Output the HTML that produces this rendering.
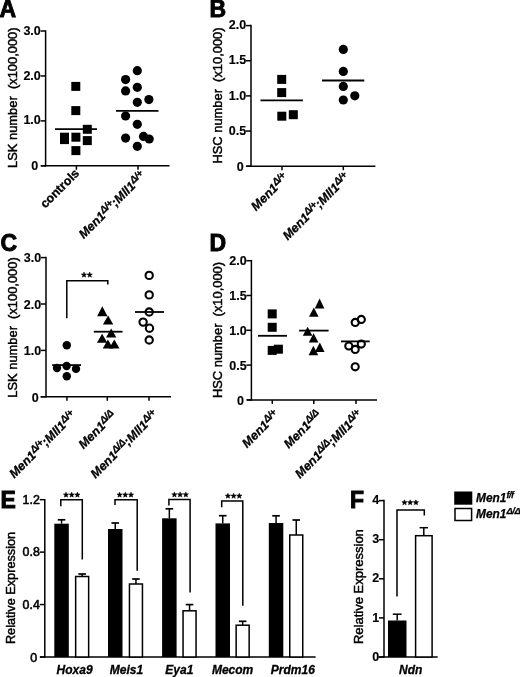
<!DOCTYPE html>
<html><head><meta charset="utf-8"><style>
html,body{margin:0;padding:0;background:#fff;}
body{width:520px;height:677px;overflow:hidden;}
svg{display:block;font-family:"Liberation Sans",sans-serif;filter:grayscale(1);}
</style></head><body>
<svg width="520" height="677" viewBox="0 0 520 677">
<rect width="520" height="677" fill="#fff"/>
<text x="-0.5" y="17" font-size="23" font-weight="bold" font-style="normal" text-anchor="start" stroke="#000" stroke-width="0.9" >A</text>
<line x1="45.6" y1="30.26" x2="45.6" y2="166.55" stroke="#000" stroke-width="1.5"/>
<line x1="40.6" y1="31.01" x2="45.6" y2="31.01" stroke="#000" stroke-width="1.5"/>
<text x="40.8" y="34.61" font-size="12.5" font-weight="bold" font-style="normal" text-anchor="end" stroke="#000" stroke-width="0.15" >3.0</text>
<line x1="40.6" y1="75.94" x2="45.6" y2="75.94" stroke="#000" stroke-width="1.5"/>
<text x="40.8" y="79.54" font-size="12.5" font-weight="bold" font-style="normal" text-anchor="end" stroke="#000" stroke-width="0.15" >2.0</text>
<line x1="40.6" y1="120.87" x2="45.6" y2="120.87" stroke="#000" stroke-width="1.5"/>
<text x="40.8" y="124.47" font-size="12.5" font-weight="bold" font-style="normal" text-anchor="end" stroke="#000" stroke-width="0.15" >1.0</text>
<line x1="40.6" y1="165.8" x2="45.6" y2="165.8" stroke="#000" stroke-width="1.5"/>
<text x="38.2" y="170.2" font-size="12.5" font-weight="bold" font-style="normal" text-anchor="end" stroke="#000" stroke-width="0.15" >0</text>
<line x1="41" y1="165.8" x2="169.5" y2="165.8" stroke="#000" stroke-width="1.5"/>
<line x1="76.4" y1="165.8" x2="76.4" y2="169.8" stroke="#000" stroke-width="1.5"/>
<line x1="138" y1="165.8" x2="138" y2="169.8" stroke="#000" stroke-width="1.5"/>
<text transform="translate(16.8,97.7) rotate(-90)" font-size="12.9" text-anchor="middle" stroke="#000" stroke-width="0.45">LSK number&#160;&#160;(x100,000)</text>
<rect x="71.30" y="81.90" width="9" height="9" fill="#000"/>
<rect x="71.30" y="106.10" width="9" height="9" fill="#000"/>
<rect x="82.80" y="124.80" width="9" height="9" fill="#000"/>
<rect x="60.00" y="132.70" width="9" height="9" fill="#000"/>
<rect x="60.00" y="135.10" width="9" height="9" fill="#000"/>
<rect x="71.40" y="132.70" width="9" height="9" fill="#000"/>
<rect x="82.80" y="136.10" width="9" height="9" fill="#000"/>
<rect x="71.40" y="146.10" width="9" height="9" fill="#000"/>
<line x1="55" y1="129.1" x2="97" y2="129.1" stroke="#000" stroke-width="1.8"/>
<circle cx="137.3" cy="70.7" r="4.6" fill="#000"/>
<circle cx="125.6" cy="79.6" r="4.6" fill="#000"/>
<circle cx="137.3" cy="87.3" r="4.6" fill="#000"/>
<circle cx="125.6" cy="90.9" r="4.6" fill="#000"/>
<circle cx="148.9" cy="99.6" r="4.6" fill="#000"/>
<circle cx="137.3" cy="102.3" r="4.6" fill="#000"/>
<circle cx="125.6" cy="116" r="4.6" fill="#000"/>
<circle cx="137.3" cy="124.3" r="4.6" fill="#000"/>
<circle cx="125.6" cy="138.1" r="4.6" fill="#000"/>
<circle cx="143.5" cy="136.4" r="4.6" fill="#000"/>
<circle cx="149.2" cy="139" r="4.6" fill="#000"/>
<circle cx="137.3" cy="146.3" r="4.6" fill="#000"/>
<line x1="116" y1="110.8" x2="158.5" y2="110.8" stroke="#000" stroke-width="1.8"/>
<text transform="translate(80,174) rotate(-45)" font-size="12.5" font-weight="bold" font-style="normal" text-anchor="end" stroke="#000" stroke-width="0.3">controls</text>
<text transform="translate(146,177) rotate(-45)" font-size="12.5" font-weight="bold" font-style="italic" text-anchor="end" stroke="#000" stroke-width="0.3"><tspan>Men1</tspan><tspan dy="-3.8" font-size="10" letter-spacing="-0.5">Δ/+</tspan><tspan dy="3.8">;Mll1</tspan><tspan dy="-3.8" font-size="10" letter-spacing="-0.5">Δ/+</tspan></text>
<text x="209.5" y="17" font-size="23" font-weight="bold" font-style="normal" text-anchor="start" stroke="#000" stroke-width="0.9" >B</text>
<line x1="251" y1="24.85" x2="251" y2="166.95" stroke="#000" stroke-width="1.5"/>
<line x1="246" y1="25.6" x2="251" y2="25.6" stroke="#000" stroke-width="1.5"/>
<text x="246.2" y="29.2" font-size="12.5" font-weight="bold" font-style="normal" text-anchor="end" stroke="#000" stroke-width="0.15" >2.0</text>
<line x1="246" y1="60.75" x2="251" y2="60.75" stroke="#000" stroke-width="1.5"/>
<text x="246.2" y="64.35" font-size="12.5" font-weight="bold" font-style="normal" text-anchor="end" stroke="#000" stroke-width="0.15" >1.5</text>
<line x1="246" y1="95.9" x2="251" y2="95.9" stroke="#000" stroke-width="1.5"/>
<text x="246.2" y="99.5" font-size="12.5" font-weight="bold" font-style="normal" text-anchor="end" stroke="#000" stroke-width="0.15" >1.0</text>
<line x1="246" y1="131.05" x2="251" y2="131.05" stroke="#000" stroke-width="1.5"/>
<text x="246.2" y="134.65" font-size="12.5" font-weight="bold" font-style="normal" text-anchor="end" stroke="#000" stroke-width="0.15" >0.5</text>
<line x1="246" y1="166.2" x2="251" y2="166.2" stroke="#000" stroke-width="1.5"/>
<text x="243.6" y="170.6" font-size="12.5" font-weight="bold" font-style="normal" text-anchor="end" stroke="#000" stroke-width="0.15" >0</text>
<line x1="246.5" y1="166.2" x2="375.4" y2="166.2" stroke="#000" stroke-width="1.5"/>
<line x1="282" y1="166.2" x2="282" y2="170.2" stroke="#000" stroke-width="1.5"/>
<line x1="343.3" y1="166.2" x2="343.3" y2="170.2" stroke="#000" stroke-width="1.5"/>
<text transform="translate(221.8,95.5) rotate(-90)" font-size="12.9" text-anchor="middle" stroke="#000" stroke-width="0.45">HSC number&#160;&#160;(x10,000)</text>
<rect x="277.20" y="74.90" width="9" height="9" fill="#000"/>
<rect x="277.20" y="88.10" width="9" height="9" fill="#000"/>
<rect x="277.30" y="111.70" width="9" height="9" fill="#000"/>
<rect x="288.80" y="110.20" width="9" height="9" fill="#000"/>
<line x1="260.5" y1="100.4" x2="302.9" y2="100.4" stroke="#000" stroke-width="1.8"/>
<circle cx="343.3" cy="49.4" r="4.6" fill="#000"/>
<circle cx="343.3" cy="71.4" r="4.6" fill="#000"/>
<circle cx="343.3" cy="86.4" r="4.6" fill="#000"/>
<circle cx="354.8" cy="95.8" r="4.6" fill="#000"/>
<circle cx="343.3" cy="100" r="4.6" fill="#000"/>
<line x1="322" y1="80.5" x2="364.3" y2="80.5" stroke="#000" stroke-width="1.8"/>
<text transform="translate(288.5,179) rotate(-45)" font-size="12.5" font-weight="bold" font-style="italic" text-anchor="end" stroke="#000" stroke-width="0.3"><tspan>Men1</tspan><tspan dy="-3.8" font-size="10" letter-spacing="-0.5">Δ/+</tspan></text>
<text transform="translate(350,178.5) rotate(-45)" font-size="12.5" font-weight="bold" font-style="italic" text-anchor="end" stroke="#000" stroke-width="0.3"><tspan>Men1</tspan><tspan dy="-3.8" font-size="10" letter-spacing="-0.5">Δ/+</tspan><tspan dy="3.8">;Mll1</tspan><tspan dy="-3.8" font-size="10" letter-spacing="-0.5">Δ/+</tspan></text>
<text x="0.5" y="251" font-size="23" font-weight="bold" font-style="normal" text-anchor="start" stroke="#000" stroke-width="0.9" >C</text>
<line x1="46" y1="256.85" x2="46" y2="397.55" stroke="#000" stroke-width="1.5"/>
<line x1="41" y1="257.6" x2="46" y2="257.6" stroke="#000" stroke-width="1.5"/>
<text x="41.2" y="262.1" font-size="12.5" font-weight="bold" font-style="normal" text-anchor="end" stroke="#000" stroke-width="0.15" >3.0</text>
<line x1="41" y1="304" x2="46" y2="304" stroke="#000" stroke-width="1.5"/>
<text x="41.2" y="308.5" font-size="12.5" font-weight="bold" font-style="normal" text-anchor="end" stroke="#000" stroke-width="0.15" >2.0</text>
<line x1="41" y1="350.4" x2="46" y2="350.4" stroke="#000" stroke-width="1.5"/>
<text x="41.2" y="354.9" font-size="12.5" font-weight="bold" font-style="normal" text-anchor="end" stroke="#000" stroke-width="0.15" >1.0</text>
<line x1="41" y1="396.8" x2="46" y2="396.8" stroke="#000" stroke-width="1.5"/>
<text x="38.6" y="402.1" font-size="12.5" font-weight="bold" font-style="normal" text-anchor="end" stroke="#000" stroke-width="0.15" >0</text>
<line x1="40.5" y1="396.8" x2="171" y2="396.8" stroke="#000" stroke-width="1.5"/>
<line x1="66.9" y1="396.8" x2="66.9" y2="400.8" stroke="#000" stroke-width="1.5"/>
<line x1="107.3" y1="396.8" x2="107.3" y2="400.8" stroke="#000" stroke-width="1.5"/>
<line x1="149" y1="396.8" x2="149" y2="400.8" stroke="#000" stroke-width="1.5"/>
<text transform="translate(17.3,327.5) rotate(-90)" font-size="12.9" text-anchor="middle" stroke="#000" stroke-width="0.45">LSK number&#160;&#160;(x100,000)</text>
<polyline points="66.8,318.2 66.8,280.8 107.8,280.8 107.8,284.6" fill="none" stroke="#000" stroke-width="1.5"/>
<polygon points="84.00,272.10 84.73,273.89 86.66,274.03 85.19,275.29 85.65,277.17 84.00,276.15 82.35,277.17 82.81,275.29 81.34,274.03 83.27,273.89" fill="#000" stroke="#000" stroke-width="0.5" stroke-linejoin="round"/>
<polygon points="89.70,272.10 90.43,273.89 92.36,274.03 90.89,275.29 91.35,277.17 89.70,276.15 88.05,277.17 88.51,275.29 87.04,274.03 88.97,273.89" fill="#000" stroke="#000" stroke-width="0.5" stroke-linejoin="round"/>
<circle cx="66.8" cy="345.2" r="4.2" fill="#000"/>
<circle cx="57" cy="368" r="4.2" fill="#000"/>
<circle cx="66.6" cy="366" r="4.2" fill="#000"/>
<circle cx="76" cy="368.9" r="4.2" fill="#000"/>
<circle cx="66.8" cy="376.2" r="4.2" fill="#000"/>
<line x1="52.2" y1="365.1" x2="81" y2="365.1" stroke="#000" stroke-width="1.8"/>
<polygon points="102.3,306.25 107.5,316.3 97.1,316.3" fill="#000"/>
<polygon points="108.1,315.4 113.3,324.5 102.89999999999999,324.5" fill="#000"/>
<polygon points="111.2,328.4 116.4,337.5 106.0,337.5" fill="#000"/>
<polygon points="102.1,333.7 107.3,342.8 96.89999999999999,342.8" fill="#000"/>
<polygon points="107.9,339.4 113.10000000000001,348.6 102.7,348.6" fill="#000"/>
<polygon points="114.3,339.4 119.5,348.6 109.1,348.6" fill="#000"/>
<line x1="93.8" y1="331.7" x2="122.5" y2="331.7" stroke="#000" stroke-width="1.8"/>
<circle cx="149.2" cy="275.4" r="3.65" fill="none" stroke="#000" stroke-width="2.1"/>
<circle cx="149.2" cy="294.9" r="3.65" fill="none" stroke="#000" stroke-width="2.1"/>
<circle cx="149.2" cy="312" r="3.65" fill="none" stroke="#000" stroke-width="2.1"/>
<circle cx="143.1" cy="322.1" r="3.65" fill="none" stroke="#000" stroke-width="2.1"/>
<circle cx="149.5" cy="328.2" r="3.65" fill="none" stroke="#000" stroke-width="2.1"/>
<circle cx="149.2" cy="340" r="3.65" fill="none" stroke="#000" stroke-width="2.1"/>
<line x1="135" y1="312" x2="164" y2="312" stroke="#000" stroke-width="1.8"/>
<text transform="translate(76.5,416.5) rotate(-45)" font-size="12.5" font-weight="bold" font-style="italic" text-anchor="end" stroke="#000" stroke-width="0.3"><tspan>Men1</tspan><tspan dy="-3.8" font-size="10" letter-spacing="-0.5">Δ/+</tspan><tspan dy="3.8">;Mll1</tspan><tspan dy="-3.8" font-size="10" letter-spacing="-0.5">Δ/+</tspan></text>
<text transform="translate(116.5,416.5) rotate(-45)" font-size="12.5" font-weight="bold" font-style="italic" text-anchor="end" stroke="#000" stroke-width="0.3"><tspan>Men1</tspan><tspan dy="-3.8" font-size="10" letter-spacing="-0.5">Δ/Δ</tspan></text>
<text transform="translate(158.5,416) rotate(-45)" font-size="12.5" font-weight="bold" font-style="italic" text-anchor="end" stroke="#000" stroke-width="0.3"><tspan>Men1</tspan><tspan dy="-3.8" font-size="10" letter-spacing="-0.5">Δ/Δ</tspan><tspan dy="3.8">;Mll1</tspan><tspan dy="-3.8" font-size="10" letter-spacing="-0.5">Δ/+</tspan></text>
<text x="209.5" y="251.3" font-size="23" font-weight="bold" font-style="normal" text-anchor="start" stroke="#000" stroke-width="0.9" >D</text>
<line x1="251.4" y1="259.95" x2="251.4" y2="400.65" stroke="#000" stroke-width="1.5"/>
<line x1="246.4" y1="260.7" x2="251.4" y2="260.7" stroke="#000" stroke-width="1.5"/>
<text x="246.6" y="265.4" font-size="12.5" font-weight="bold" font-style="normal" text-anchor="end" stroke="#000" stroke-width="0.15" >2.0</text>
<line x1="246.4" y1="295.5" x2="251.4" y2="295.5" stroke="#000" stroke-width="1.5"/>
<text x="246.6" y="300.2" font-size="12.5" font-weight="bold" font-style="normal" text-anchor="end" stroke="#000" stroke-width="0.15" >1.5</text>
<line x1="246.4" y1="330.3" x2="251.4" y2="330.3" stroke="#000" stroke-width="1.5"/>
<text x="246.6" y="335" font-size="12.5" font-weight="bold" font-style="normal" text-anchor="end" stroke="#000" stroke-width="0.15" >1.0</text>
<line x1="246.4" y1="365.1" x2="251.4" y2="365.1" stroke="#000" stroke-width="1.5"/>
<text x="246.6" y="369.8" font-size="12.5" font-weight="bold" font-style="normal" text-anchor="end" stroke="#000" stroke-width="0.15" >0.5</text>
<line x1="246.4" y1="399.9" x2="251.4" y2="399.9" stroke="#000" stroke-width="1.5"/>
<text x="244" y="405.4" font-size="12.5" font-weight="bold" font-style="normal" text-anchor="end" stroke="#000" stroke-width="0.15" >0</text>
<line x1="247" y1="399.9" x2="377" y2="399.9" stroke="#000" stroke-width="1.5"/>
<line x1="272.3" y1="399.9" x2="272.3" y2="403.9" stroke="#000" stroke-width="1.5"/>
<line x1="313.8" y1="399.9" x2="313.8" y2="403.9" stroke="#000" stroke-width="1.5"/>
<line x1="356" y1="399.9" x2="356" y2="403.9" stroke="#000" stroke-width="1.5"/>
<text transform="translate(221.8,330) rotate(-90)" font-size="12.9" text-anchor="middle" stroke="#000" stroke-width="0.45">HSC number&#160;&#160;(x10,000)</text>
<rect x="267.70" y="309.40" width="9" height="9" fill="#000"/>
<rect x="267.70" y="322.80" width="9" height="9" fill="#000"/>
<rect x="267.70" y="345.90" width="9" height="9" fill="#000"/>
<rect x="273.90" y="344.70" width="9" height="9" fill="#000"/>
<line x1="258" y1="335.8" x2="287" y2="335.8" stroke="#000" stroke-width="1.8"/>
<polygon points="319.6,298.5 324.40000000000003,308.6 314.8,308.6" fill="#000"/>
<polygon points="313.8,307.4 318.6,316.7 309.0,316.7" fill="#000"/>
<polygon points="307.6,326.7 312.40000000000003,335.8 302.8,335.8" fill="#000"/>
<polygon points="313.6,333.2 318.40000000000003,342.5 308.8,342.5" fill="#000"/>
<polygon points="319.8,342.5 324.6,352 315.0,352" fill="#000"/>
<polygon points="313.4,345.8 318.2,355.3 308.59999999999997,355.3" fill="#000"/>
<line x1="299.1" y1="330.6" x2="328.6" y2="330.6" stroke="#000" stroke-width="1.8"/>
<circle cx="355.2" cy="322.4" r="3.55" fill="none" stroke="#000" stroke-width="2.1"/>
<circle cx="361.3" cy="319.4" r="3.55" fill="none" stroke="#000" stroke-width="2.1"/>
<circle cx="348.8" cy="346" r="3.55" fill="none" stroke="#000" stroke-width="2.1"/>
<circle cx="355.2" cy="349.4" r="3.55" fill="none" stroke="#000" stroke-width="2.1"/>
<circle cx="361.3" cy="344.1" r="3.55" fill="none" stroke="#000" stroke-width="2.1"/>
<circle cx="355.2" cy="366.8" r="3.55" fill="none" stroke="#000" stroke-width="2.1"/>
<line x1="341" y1="341.4" x2="369.7" y2="341.4" stroke="#000" stroke-width="1.8"/>
<text transform="translate(279.5,416) rotate(-45)" font-size="12.5" font-weight="bold" font-style="italic" text-anchor="end" stroke="#000" stroke-width="0.3"><tspan>Men1</tspan><tspan dy="-3.8" font-size="10" letter-spacing="-0.5">Δ/+</tspan></text>
<text transform="translate(321.8,416) rotate(-45)" font-size="12.5" font-weight="bold" font-style="italic" text-anchor="end" stroke="#000" stroke-width="0.3"><tspan>Men1</tspan><tspan dy="-3.8" font-size="10" letter-spacing="-0.5">Δ/Δ</tspan></text>
<text transform="translate(363,416) rotate(-45)" font-size="12.5" font-weight="bold" font-style="italic" text-anchor="end" stroke="#000" stroke-width="0.3"><tspan>Men1</tspan><tspan dy="-3.8" font-size="10" letter-spacing="-0.5">Δ/Δ</tspan><tspan dy="3.8">;Mll1</tspan><tspan dy="-3.8" font-size="10" letter-spacing="-0.5">Δ/+</tspan></text>
<text x="0.5" y="507.7" font-size="23" font-weight="bold" font-style="normal" text-anchor="start" stroke="#000" stroke-width="0.9" >E</text>
<line x1="44.8" y1="498.93" x2="44.8" y2="657.75" stroke="#000" stroke-width="1.5"/>
<line x1="39.8" y1="499.68" x2="44.8" y2="499.68" stroke="#000" stroke-width="1.5"/>
<text x="39.8" y="503.68" font-size="12.4" font-weight="normal" font-style="normal" text-anchor="end" stroke="#000" stroke-width="0.55" >1.2</text>
<line x1="39.8" y1="552.12" x2="44.8" y2="552.12" stroke="#000" stroke-width="1.5"/>
<text x="39.8" y="556.12" font-size="12.4" font-weight="normal" font-style="normal" text-anchor="end" stroke="#000" stroke-width="0.55" >0.8</text>
<line x1="39.8" y1="604.56" x2="44.8" y2="604.56" stroke="#000" stroke-width="1.5"/>
<text x="39.8" y="608.56" font-size="12.4" font-weight="normal" font-style="normal" text-anchor="end" stroke="#000" stroke-width="0.55" >0.4</text>
<line x1="39.8" y1="657" x2="44.8" y2="657" stroke="#000" stroke-width="1.5"/>
<text x="37.2" y="661.8" font-size="12.4" font-weight="normal" font-style="normal" text-anchor="end" stroke="#000" stroke-width="0.55" >0</text>
<line x1="40" y1="657" x2="315.6" y2="657" stroke="#000" stroke-width="1.5"/>
<text transform="translate(15,588) rotate(-90)" font-size="12.7" text-anchor="middle" stroke="#000" stroke-width="0.45">Relative Expression</text>
<rect x="54.3" y="523.7" width="14.5" height="133.29999999999995" fill="#000"/>
<line x1="61.55" y1="523.7" x2="61.55" y2="519.8" stroke="#000" stroke-width="1.5"/>
<line x1="57.75" y1="519.8" x2="65.35" y2="519.8" stroke="#000" stroke-width="1.7"/>
<rect x="75.65" y="576.5" width="13.0" height="80.5" fill="#fff" stroke="#000" stroke-width="1.5"/>
<line x1="82.15" y1="576.5" x2="82.15" y2="574" stroke="#000" stroke-width="1.5"/>
<line x1="78.35" y1="574" x2="85.95" y2="574" stroke="#000" stroke-width="1.7"/>
<rect x="108.0" y="529.0" width="14.5" height="128.0" fill="#000"/>
<line x1="115.25" y1="529" x2="115.25" y2="523" stroke="#000" stroke-width="1.5"/>
<line x1="111.45" y1="523" x2="119.05" y2="523" stroke="#000" stroke-width="1.7"/>
<rect x="129.45" y="584.0" width="13.0" height="73.0" fill="#fff" stroke="#000" stroke-width="1.5"/>
<line x1="135.95" y1="584" x2="135.95" y2="579" stroke="#000" stroke-width="1.5"/>
<line x1="132.15" y1="579" x2="139.75" y2="579" stroke="#000" stroke-width="1.7"/>
<rect x="162.1" y="518.3" width="14.5" height="138.70000000000005" fill="#000"/>
<line x1="169.35" y1="518.3" x2="169.35" y2="508.8" stroke="#000" stroke-width="1.5"/>
<line x1="165.55" y1="508.8" x2="173.15" y2="508.8" stroke="#000" stroke-width="1.7"/>
<rect x="183.05" y="610.8" width="13.0" height="46.200000000000045" fill="#fff" stroke="#000" stroke-width="1.5"/>
<line x1="189.55" y1="610.8" x2="189.55" y2="604.6" stroke="#000" stroke-width="1.5"/>
<line x1="185.75" y1="604.6" x2="193.35" y2="604.6" stroke="#000" stroke-width="1.7"/>
<rect x="215.5" y="523.4" width="14.5" height="133.60000000000002" fill="#000"/>
<line x1="222.75" y1="523.4" x2="222.75" y2="515.7" stroke="#000" stroke-width="1.5"/>
<line x1="218.95" y1="515.7" x2="226.55" y2="515.7" stroke="#000" stroke-width="1.7"/>
<rect x="236.15" y="625.2" width="13.0" height="31.799999999999955" fill="#fff" stroke="#000" stroke-width="1.5"/>
<line x1="242.65" y1="625.2" x2="242.65" y2="621.3" stroke="#000" stroke-width="1.5"/>
<line x1="238.85" y1="621.3" x2="246.45" y2="621.3" stroke="#000" stroke-width="1.7"/>
<rect x="268.8" y="523.0" width="14.5" height="134.0" fill="#000"/>
<line x1="276.05" y1="523" x2="276.05" y2="515.8" stroke="#000" stroke-width="1.5"/>
<line x1="272.25" y1="515.8" x2="279.85" y2="515.8" stroke="#000" stroke-width="1.7"/>
<rect x="289.75" y="535.0" width="13.0" height="122.0" fill="#fff" stroke="#000" stroke-width="1.5"/>
<line x1="296.25" y1="535" x2="296.25" y2="520" stroke="#000" stroke-width="1.5"/>
<line x1="292.45" y1="520" x2="300.05" y2="520" stroke="#000" stroke-width="1.7"/>
<polyline points="60.8,506.3 60.8,499.8 82.3,499.8 82.3,559.6" fill="none" stroke="#000" stroke-width="1.5"/>
<polygon points="66.00,492.10 66.73,493.89 68.66,494.03 67.19,495.29 67.65,497.17 66.00,496.15 64.35,497.17 64.81,495.29 63.34,494.03 65.27,493.89" fill="#000" stroke="#000" stroke-width="0.5" stroke-linejoin="round"/>
<polygon points="71.70,492.10 72.43,493.89 74.36,494.03 72.89,495.29 73.35,497.17 71.70,496.15 70.05,497.17 70.51,495.29 69.04,494.03 70.97,493.89" fill="#000" stroke="#000" stroke-width="0.5" stroke-linejoin="round"/>
<polygon points="77.40,492.10 78.13,493.89 80.06,494.03 78.59,495.29 79.05,497.17 77.40,496.15 75.75,497.17 76.21,495.29 74.74,494.03 76.67,493.89" fill="#000" stroke="#000" stroke-width="0.5" stroke-linejoin="round"/>
<polyline points="115,505 115,499.8 137.2,499.8 137.2,570.8" fill="none" stroke="#000" stroke-width="1.5"/>
<polygon points="119.60,492.10 120.33,493.89 122.26,494.03 120.79,495.29 121.25,497.17 119.60,496.15 117.95,497.17 118.41,495.29 116.94,494.03 118.87,493.89" fill="#000" stroke="#000" stroke-width="0.5" stroke-linejoin="round"/>
<polygon points="125.30,492.10 126.03,493.89 127.96,494.03 126.49,495.29 126.95,497.17 125.30,496.15 123.65,497.17 124.11,495.29 122.64,494.03 124.57,493.89" fill="#000" stroke="#000" stroke-width="0.5" stroke-linejoin="round"/>
<polygon points="131.00,492.10 131.73,493.89 133.66,494.03 132.19,495.29 132.65,497.17 131.00,496.15 129.35,497.17 129.81,495.29 128.34,494.03 130.27,493.89" fill="#000" stroke="#000" stroke-width="0.5" stroke-linejoin="round"/>
<polyline points="168.9,505.4 168.9,499.6 190.1,499.6 190.1,592.5" fill="none" stroke="#000" stroke-width="1.5"/>
<polygon points="174.40,491.90 175.13,493.69 177.06,493.83 175.59,495.09 176.05,496.97 174.40,495.95 172.75,496.97 173.21,495.09 171.74,493.83 173.67,493.69" fill="#000" stroke="#000" stroke-width="0.5" stroke-linejoin="round"/>
<polygon points="180.10,491.90 180.83,493.69 182.76,493.83 181.29,495.09 181.75,496.97 180.10,495.95 178.45,496.97 178.91,495.09 177.44,493.83 179.37,493.69" fill="#000" stroke="#000" stroke-width="0.5" stroke-linejoin="round"/>
<polygon points="185.80,491.90 186.53,493.69 188.46,493.83 186.99,495.09 187.45,496.97 185.80,495.95 184.15,496.97 184.61,495.09 183.14,493.83 185.07,493.69" fill="#000" stroke="#000" stroke-width="0.5" stroke-linejoin="round"/>
<polyline points="221.7,507.3 221.7,500.9 242.8,500.9 242.8,605.8" fill="none" stroke="#000" stroke-width="1.5"/>
<polygon points="227.90,493.20 228.63,494.99 230.56,495.13 229.09,496.39 229.55,498.27 227.90,497.25 226.25,498.27 226.71,496.39 225.24,495.13 227.17,494.99" fill="#000" stroke="#000" stroke-width="0.5" stroke-linejoin="round"/>
<polygon points="233.60,493.20 234.33,494.99 236.26,495.13 234.79,496.39 235.25,498.27 233.60,497.25 231.95,498.27 232.41,496.39 230.94,495.13 232.87,494.99" fill="#000" stroke="#000" stroke-width="0.5" stroke-linejoin="round"/>
<polygon points="239.30,493.20 240.03,494.99 241.96,495.13 240.49,496.39 240.95,498.27 239.30,497.25 237.65,498.27 238.11,496.39 236.64,495.13 238.57,494.99" fill="#000" stroke="#000" stroke-width="0.5" stroke-linejoin="round"/>
<text x="74.6" y="674" font-size="12" font-weight="bold" font-style="italic" text-anchor="middle" stroke="#000" stroke-width="0.3" >Hoxa9</text>
<text x="126.4" y="674" font-size="12" font-weight="bold" font-style="italic" text-anchor="middle" stroke="#000" stroke-width="0.3" >Meis1</text>
<text x="179.3" y="674" font-size="12" font-weight="bold" font-style="italic" text-anchor="middle" stroke="#000" stroke-width="0.3" >Eya1</text>
<text x="232.6" y="674" font-size="12" font-weight="bold" font-style="italic" text-anchor="middle" stroke="#000" stroke-width="0.3" >Mecom</text>
<text x="292.8" y="674" font-size="12" font-weight="bold" font-style="italic" text-anchor="middle" stroke="#000" stroke-width="0.3" >Prdm16</text>
<text x="350" y="507.7" font-size="23" font-weight="bold" font-style="normal" text-anchor="start" stroke="#000" stroke-width="0.9" >F</text>
<line x1="384" y1="499.85" x2="384" y2="657.75" stroke="#000" stroke-width="1.5"/>
<line x1="379" y1="500.6" x2="384" y2="500.6" stroke="#000" stroke-width="1.5"/>
<text x="379.2" y="504.2" font-size="12.5" font-weight="bold" font-style="normal" text-anchor="end" stroke="#000" stroke-width="0.15" >4</text>
<line x1="379" y1="539.7" x2="384" y2="539.7" stroke="#000" stroke-width="1.5"/>
<text x="379.2" y="543.3" font-size="12.5" font-weight="bold" font-style="normal" text-anchor="end" stroke="#000" stroke-width="0.15" >3</text>
<line x1="379" y1="578.8" x2="384" y2="578.8" stroke="#000" stroke-width="1.5"/>
<text x="379.2" y="582.4" font-size="12.5" font-weight="bold" font-style="normal" text-anchor="end" stroke="#000" stroke-width="0.15" >2</text>
<line x1="379" y1="617.9" x2="384" y2="617.9" stroke="#000" stroke-width="1.5"/>
<text x="379.2" y="621.5" font-size="12.5" font-weight="bold" font-style="normal" text-anchor="end" stroke="#000" stroke-width="0.15" >1</text>
<line x1="379" y1="657" x2="384" y2="657" stroke="#000" stroke-width="1.5"/>
<text x="379.2" y="661.4" font-size="12.5" font-weight="bold" font-style="normal" text-anchor="end" stroke="#000" stroke-width="0.15" >0</text>
<line x1="378.5" y1="657" x2="437.7" y2="657" stroke="#000" stroke-width="1.5"/>
<text transform="translate(362.8,586.6) rotate(-90)" font-size="13" text-anchor="middle" stroke="#000" stroke-width="0.45">Relative Expression</text>
<rect x="388" y="620.5" width="18.5" height="36.5" fill="#000"/>
<line x1="397.2" y1="620.5" x2="397.2" y2="614.2" stroke="#000" stroke-width="1.5"/>
<line x1="392.8" y1="614.2" x2="401.6" y2="614.2" stroke="#000" stroke-width="1.5"/>
<rect x="415.6" y="535.7" width="16.5" height="121.3" fill="#fff" stroke="#000" stroke-width="1.5"/>
<line x1="423.8" y1="535.7" x2="423.8" y2="527.7" stroke="#000" stroke-width="1.5"/>
<line x1="419.6" y1="527.7" x2="428" y2="527.7" stroke="#000" stroke-width="1.5"/>
<polyline points="397,596.6 397,510 424.3,510 424.3,515.4" fill="none" stroke="#000" stroke-width="1.5"/>
<polygon points="404.50,499.80 405.23,501.59 407.16,501.73 405.69,502.99 406.15,504.87 404.50,503.85 402.85,504.87 403.31,502.99 401.84,501.73 403.77,501.59" fill="#000" stroke="#000" stroke-width="0.5" stroke-linejoin="round"/>
<polygon points="410.20,499.80 410.93,501.59 412.86,501.73 411.39,502.99 411.85,504.87 410.20,503.85 408.55,504.87 409.01,502.99 407.54,501.73 409.47,501.59" fill="#000" stroke="#000" stroke-width="0.5" stroke-linejoin="round"/>
<polygon points="415.90,499.80 416.63,501.59 418.56,501.73 417.09,502.99 417.55,504.87 415.90,503.85 414.25,504.87 414.71,502.99 413.24,501.73 415.17,501.59" fill="#000" stroke="#000" stroke-width="0.5" stroke-linejoin="round"/>
<text x="410.7" y="674" font-size="12" font-weight="bold" font-style="italic" text-anchor="middle" stroke="#000" stroke-width="0.3" >Ndn</text>
<rect x="454.2" y="491.5" width="18.1" height="13.2" fill="#000"/>
<rect x="455" y="508.5" width="16.6" height="12" fill="#fff" stroke="#000" stroke-width="1.5"/>
<text x="476" y="502" font-size="11.9" font-weight="bold" font-style="italic" text-anchor="start" stroke="#000" stroke-width="0.25" ><tspan>Men1</tspan><tspan dy="-3.8" font-size="9" letter-spacing="-0.5">f/f</tspan></text>
<text x="476" y="518" font-size="11.9" font-weight="bold" font-style="italic" text-anchor="start" stroke="#000" stroke-width="0.25" ><tspan>Men1</tspan><tspan dy="-3.8" font-size="9.5" letter-spacing="-0.5">Δ/Δ</tspan></text>
</svg>
</body></html>
